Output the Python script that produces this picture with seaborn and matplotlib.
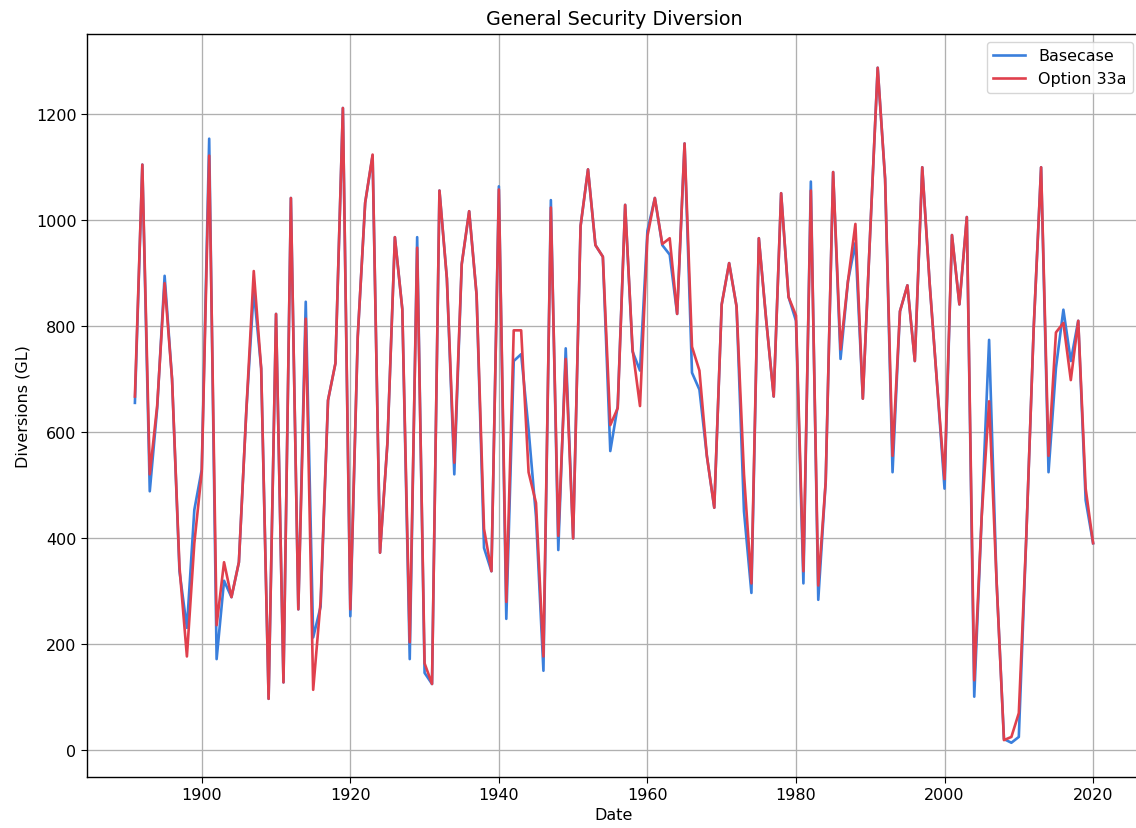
import matplotlib
matplotlib.use("Agg")
import matplotlib.pyplot as plt
import seaborn as sns
import pandas as pd

# Annual general security diversions (GL), 1891-2020
years = list(range(1891, 2021))

basecase = [
    655, 1105, 488, 645, 895, 700, 337, 230, 453,            # 1891-1899
    529, 1154, 171, 319, 288, 354, 640, 868, 720, 96,        # 1900-1909
    823, 127, 1042, 265, 846, 212, 270, 660, 730, 1212,      # 1910-1919
    252, 780, 1033, 1122, 372, 580, 968, 832, 171, 968,      # 1920-1929
    145, 124, 1056, 890, 520, 917, 1017, 859, 381, 337,      # 1930-1939
    1064, 247, 734, 747, 605, 440, 149, 1038, 377, 758,      # 1940-1949
    399, 989, 1096, 953, 931, 564, 649, 1029, 752, 716,      # 1950-1959
    980, 1042, 953, 935, 823, 1145, 712, 680, 555, 457,      # 1960-1969
    841, 919, 837, 450, 296, 966, 810, 667, 1051, 855,       # 1970-1979
    810, 314, 1073, 283, 506, 1091, 738, 885, 957, 663,      # 1980-1989
    980, 1288, 1078, 524, 828, 877, 734, 1100, 880, 690,     # 1990-1999
    493, 972, 841, 1006, 100, 440, 774, 320, 20, 13,         # 2000-2009
    24, 400, 795, 1100, 524, 721, 831, 734, 810, 471,        # 2010-2019
    390,                                                     # 2020
]

option_33a = [
    667, 1105, 520, 650, 881, 700, 345, 176, 390,            # 1891-1899
    525, 1122, 235, 354, 288, 354, 640, 904, 720, 96,        # 1900-1909
    823, 127, 1042, 265, 814, 113, 280, 660, 730, 1212,      # 1910-1919
    265, 780, 1033, 1124, 372, 580, 968, 832, 203, 948,      # 1920-1929
    163, 124, 1056, 890, 542, 917, 1017, 859, 417, 337,      # 1930-1939
    1058, 279, 792, 792, 524, 466, 176, 1024, 404, 738,      # 1940-1949
    399, 989, 1096, 953, 931, 613, 645, 1029, 756, 649,      # 1950-1959
    970, 1042, 955, 966, 823, 1145, 761, 716, 555, 457,      # 1960-1969
    841, 919, 837, 520, 314, 966, 810, 667, 1051, 855,       # 1970-1979
    820, 337, 1056, 310, 506, 1091, 756, 885, 993, 663,      # 1980-1989
    980, 1288, 1078, 555, 828, 877, 734, 1100, 880, 690,     # 1990-1999
    511, 972, 841, 1006, 131, 440, 658, 320, 18, 24,         # 2000-2009
    69, 400, 795, 1100, 555, 788, 806, 698, 810, 493,        # 2010-2019
    390,                                                     # 2020
]

scenarios = ["Basecase", "Option 33a"]
colors = {"Basecase": "#3a7fdc", "Option 33a": "#e0404d"}

df = pd.concat([
    pd.DataFrame({"Date": years, "Diversions (GL)": basecase, "Scenario": scenarios[0]}),
    pd.DataFrame({"Date": years, "Diversions (GL)": option_33a, "Scenario": scenarios[1]}),
], ignore_index=True)

plt.rcParams.update({
    "font.size": 11.5,
    "xtick.labelsize": 11.5,
    "ytick.labelsize": 11.5,
    "xtick.major.size": 4,
    "ytick.major.size": 4,
    "axes.linewidth": 1.0,
})

fig = plt.figure(figsize=(11.36, 8.29), dpi=100)
ax = fig.add_axes([87 / 1136, 51.5 / 829, (1141 - 87) / 1136, (777.5 - 35) / 829])

sns.lineplot(
    data=df, x="Date", y="Diversions (GL)", hue="Scenario",
    hue_order=scenarios, palette=colors, linewidth=1.9, ax=ax,
)

ax.grid(True, color="#b0b0b0", linewidth=0.95)
ax.set_axisbelow(True)
ax.set_title("General Security Diversion", fontsize=13.8, pad=7)
ax.set_xlabel("Date", fontsize=11.5)
ax.set_ylabel("Diversions (GL)", fontsize=11.5)
ax.set_xticks([1900, 1920, 1940, 1960, 1980, 2000, 2020])
ax.set_yticks([0, 200, 400, 600, 800, 1000, 1200])
ax.margins(x=0.05, y=0.05)
ax.legend(loc="upper right", title=None, fontsize=11.5)

fig.savefig("out.png", dpi=100)
